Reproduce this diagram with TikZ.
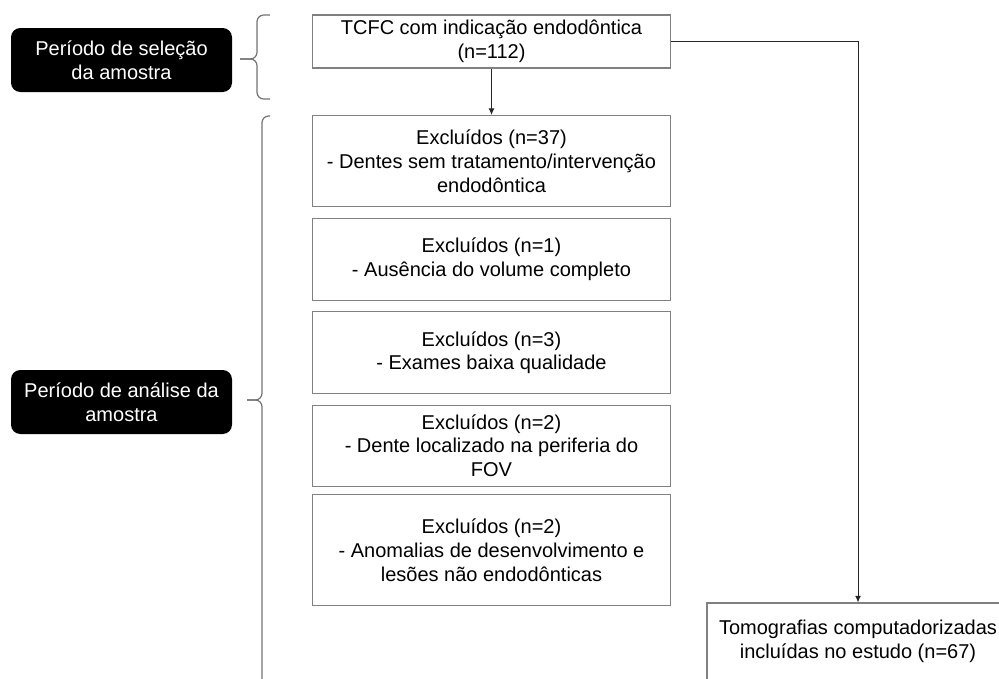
\documentclass[tikz,border=0pt]{standalone}
\usepackage{fontspec}
\setmainfont{Liberation Sans}
\usepackage{tikz}
\usetikzlibrary{arrows.meta,positioning,calc}
\tikzstyle{etapa}=[draw=black!50, line width=0.8pt, fill=white, align=center,
inner sep=0pt, minimum width=268.5pt, font=\fontsize{15}{17.8}\selectfont]
\tikzstyle{periodo}=[fill=black, text=white, rounded corners=7pt, align=center,
minimum width=165.75pt, minimum height=48pt, font=\fontsize{15}{17.8}\selectfont]
\tikzstyle{line}=[draw, line width=0.75pt, color=black!85, -{Latex[length=5pt,width=4.5pt]}]
\tikzstyle{chave}=[draw, line width=0.9pt, color=black!55, rounded corners=5pt]
\newcommand{\etapa}[3]{node (p#1)[etapa, minimum height=#2]{#3}}
\newcommand{\periodo}[2]{node (b#1)[periodo]{#2}}

\begin{document}
\begin{tikzpicture}[x=0.75pt, y=-0.75pt]
	\useasboundingbox (0,0) rectangle (999,678);
	\clip (0,0) rectangle (999,678);

	% Draw diagram elements
	\path (491.5,41.5) \etapa{1}{39.75pt}{TCFC com indicação endodôntica\\(n=112)};

	\path (p1.south)+(0,92.5) \etapa{2}{68.25pt}{Excluídos (n=37)\\- Dentes sem tratamento/intervenção\\endodôntica};
	\path (p2.south)+(0,52) \etapa{3}{61.5pt}{Excluídos (n=1)\\- Ausência do volume completo};
	\path (p3.south)+(0,52) \etapa{4}{61.5pt}{Excluídos (n=3)\\- Exames baixa qualidade};
	\path (p4.south)+(0,51.5) \etapa{5}{60.75pt}{Excluídos (n=2)\\- Dente localizado na periferia do\\FOV};
	\path (p5.south)+(0,63.5) \etapa{6}{83.25pt}{Excluídos (n=2)\\- Anomalias de desenvolvimento e\\lesões não endodônticas};

	\path (858,641.5) node (p7)[etapa, minimum width=226.5pt, minimum height=57.75pt]
		{Tomografias computadorizadas\\incluídas no estudo (n=67)};

	\path (121.5,60) \periodo{1}{Período de seleção\\da amostra};
	\path (121.5,402) \periodo{2}{Período de análise da\\amostra};

	% Draw braces
	\draw[chave] (270,15) -- (257,15) -- (257,59) -- (240,59);
	\draw[chave] (240,59) -- (257,59) -- (257,99) -- (270,99);
	\draw[chave] (270,116) -- (262,116) -- (262,400) -- (247,400);
	\draw[chave] (247,400) -- (262,400) -- (262,700);

	% Draw arrows between elements
	\path [line] (p1.south) -- (p2.north);
	\path [line] (p1.east) -| (p7.north);
\end{tikzpicture}
\end{document}
